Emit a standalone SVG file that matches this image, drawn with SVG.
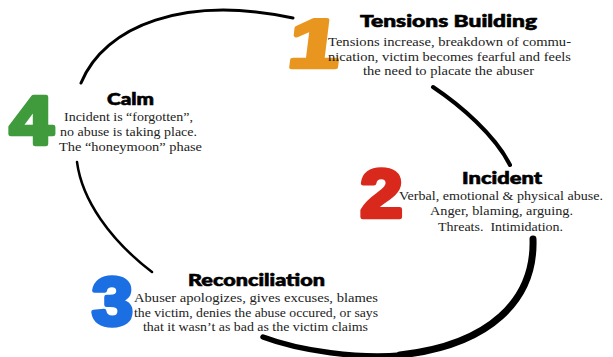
<svg xmlns="http://www.w3.org/2000/svg" width="613" height="357" viewBox="0 0 613 357">
<style>
.num{font-family:"Liberation Sans",Arial,sans-serif;font-weight:bold;font-size:68px;text-anchor:middle;stroke-width:4.5;stroke-linejoin:round}
.ttl{font-family:Lato,"DejaVu Sans",sans-serif;font-weight:900;font-size:16.5px;fill:#000;stroke:#000;stroke-width:0.6}
.txt{font-family:"Liberation Serif","Times New Roman",serif;font-size:13px;fill:#222}
.arc{fill:none;stroke:#000;stroke-linecap:round}
</style>
<rect width="613" height="357" fill="#fff"/>
<g id="connectors">
<path class="arc" d="M81,83 C105,25 185,-5 293,18" stroke-width="3"/>
<path class="arc" d="M433,87 C460,105 495,135 510,165" stroke-width="4"/>
<path class="arc" d="M533,239 C535,300 490,345 400,355" stroke-width="7"/>
<path class="arc" d="M401,355 C360,359 300,351 263,337" stroke-width="5.5"/>
<path class="arc" d="M77,162 C82,200 110,240 152,272" stroke-width="2.5"/>
</g>
<g id="node-1">
<text class="num" transform="translate(312,66.5) skewX(-7) scale(1.35,1)" x="0" y="0" fill="#E8961F" stroke="#E8961F">1</text>
<text class="ttl" x="360" y="27" textLength="177" lengthAdjust="spacingAndGlyphs">Tensions Building</text>
<text class="txt" x="328" y="46" textLength="243" lengthAdjust="spacingAndGlyphs">Tensions increase, breakdown of commu-</text>
<text class="txt" x="328" y="60.5" textLength="243" lengthAdjust="spacingAndGlyphs">nication, victim becomes fearful and feels</text>
<text class="txt" x="363" y="74.5" textLength="171" lengthAdjust="spacingAndGlyphs">the need to placate the abuser</text>
</g>
<g id="node-2">
<text class="num" transform="translate(381.5,216.5) scale(1.12,1)" x="0" y="0" fill="#D8291C" stroke="#D8291C">2</text>
<text class="ttl" x="462" y="184" textLength="80" lengthAdjust="spacingAndGlyphs">Incident</text>
<text class="txt" x="399" y="200" textLength="204" lengthAdjust="spacingAndGlyphs">Verbal, emotional &amp; physical abuse.</text>
<text class="txt" x="430" y="215" textLength="143" lengthAdjust="spacingAndGlyphs">Anger, blaming, arguing.</text>
<text class="txt" x="438" y="230.5" textLength="125" lengthAdjust="spacingAndGlyphs" xml:space="preserve">Threats.  Intimidation.</text>
</g>
<g id="node-3">
<text class="num" transform="translate(112.5,325) scale(1.08,1)" x="0" y="0" fill="#1B6FE3" stroke="#1B6FE3">3</text>
<text class="ttl" x="188" y="286" textLength="137" lengthAdjust="spacingAndGlyphs">Reconciliation</text>
<text class="txt" x="134" y="301.5" textLength="244" lengthAdjust="spacingAndGlyphs">Abuser apologizes, gives excuses, blames</text>
<text class="txt" x="134" y="316.5" textLength="244" lengthAdjust="spacingAndGlyphs">the victim, denies the abuse occured, or says</text>
<text class="txt" x="143" y="331" textLength="225" lengthAdjust="spacingAndGlyphs">that it wasn’t as bad as the victim claims</text>
</g>
<g id="node-4">
<text class="num" transform="translate(31.5,143.5) scale(1.15,1)" x="0" y="0" fill="#3F9B3B" stroke="#3F9B3B">4</text>
<text class="ttl" x="107" y="105" textLength="47" lengthAdjust="spacingAndGlyphs">Calm</text>
<text class="txt" x="64" y="120.5" textLength="129" lengthAdjust="spacingAndGlyphs">Incident is “forgotten”,</text>
<text class="txt" x="60" y="136" textLength="137" lengthAdjust="spacingAndGlyphs">no abuse is taking place.</text>
<text class="txt" x="59" y="151" textLength="143" lengthAdjust="spacingAndGlyphs">The “honeymoon” phase</text>
</g>
</svg>
